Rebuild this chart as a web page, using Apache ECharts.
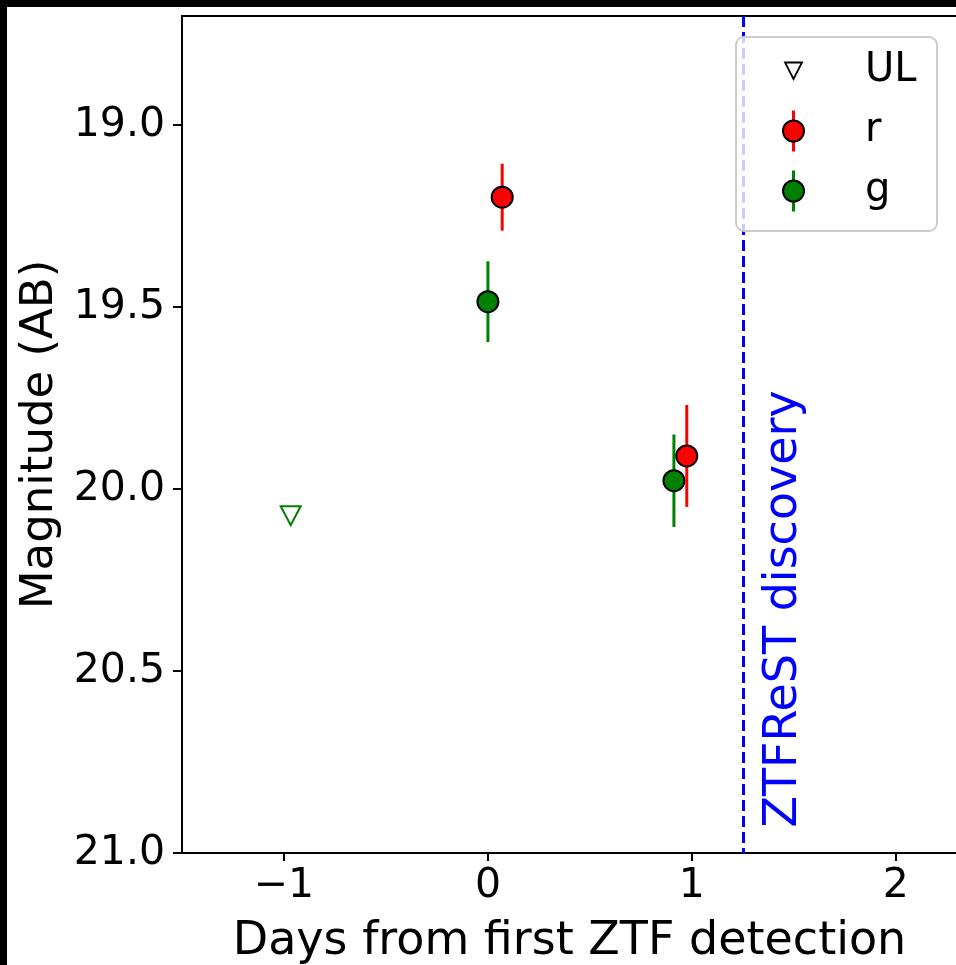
<!DOCTYPE html>
<html>
<head>
<meta charset="utf-8">
<script src="https://cdn.jsdelivr.net/npm/echarts@6/dist/echarts.min.js"></script>
<style>
  html, body { margin: 0; padding: 0; background: #fff; }
  #chart { width: 956px; height: 965px; }
</style>
</head>
<body>
<div id="chart"></div>
<script>
// Early light curve: ZTF r and g photometry, one upper limit
const rDays = [0.07, 0.975];
const rMag = [19.198, 19.909];
const rErr = [0.092, 0.140];

const gDays = [0.0, 0.912];
const gMag = [19.485, 19.977];
const gErr = [0.111, 0.127];

const ulDays = [-0.967];
const ulMag = [20.073];

const discoveryDay = 1.255;
const discoveryText = 'ZTFReST discovery';

const xTicks = [-1, 0, 1, 2];
const yTicks = [19.0, 19.5, 20.0, 20.5, 21.0];

const FONT = 'DejaVu Sans';
const RED = '#ff0000';
const GREEN = '#008000';

function pts(xs, ys) { return xs.map((x, i) => [x, ys[i]]); }
function errPts(xs, ys, es) { return xs.map((x, i) => [x, ys[i], es[i]]); }

function errorBars(color) {
  return function (params, api) {
    const x = api.value(0), y = api.value(1), e = api.value(2);
    const a = api.coord([x, y - e]);
    const b = api.coord([x, y + e]);
    return {
      type: 'line',
      shape: { x1: a[0], y1: a[1], x2: b[0], y2: b[1] },
      style: { stroke: color, lineWidth: 3 }
    };
  };
}

const chart = echarts.init(document.getElementById('chart'), null, { renderer: 'canvas' });

const axisLineStyle = { color: '#000', width: 2 };

chart.setOption({
  backgroundColor: '#fff',
  animation: false,
  grid: {
    left: 182, top: 16, right: -1, bottom: 112,
    containLabel: false,
    outerBoundsMode: 'none',
    show: true, borderColor: '#000', borderWidth: 2, backgroundColor: 'transparent'
  },
  xAxis: {
    type: 'value',
    min: -1.5, max: 2.3,
    name: 'Days from first ZTF detection',
    nameLocation: 'middle',
    nameGap: 66,
    nameTextStyle: { fontFamily: FONT, fontSize: 46, color: '#000' },
    axisLine: { show: true, onZero: false, lineStyle: axisLineStyle },
    axisTick: { show: true, length: 8, lineStyle: axisLineStyle, customValues: xTicks },
    axisLabel: {
      fontFamily: FONT, fontSize: 41, color: '#000', margin: 13,
      customValues: xTicks,
      formatter: v => (v < 0 ? '\u2212' + Math.abs(v) : String(v))
    },
    splitLine: { show: false }
  },
  yAxis: {
    type: 'value',
    inverse: true,
    min: 18.7, max: 21.0,
    name: 'Magnitude (AB)',
    nameLocation: 'middle',
    nameGap: 118,
    nameTextStyle: { fontFamily: FONT, fontSize: 45, color: '#000' },
    axisLine: { show: true, onZero: false, lineStyle: axisLineStyle },
    axisTick: { show: true, length: 9, lineStyle: axisLineStyle, customValues: yTicks },
    axisLabel: {
      fontFamily: FONT, fontSize: 41, color: '#000', margin: 17,
      customValues: yTicks,
      formatter: v => v.toFixed(1)
    },
    splitLine: { show: false }
  },
  series: [
    {
      name: 'UL',
      type: 'scatter',
      data: pts(ulDays, ulMag),
      symbol: 'triangle',
      symbolRotate: 180,
      symbolSize: [20, 19],
      itemStyle: { color: '#fff', borderColor: GREEN, borderWidth: 2, opacity: 1 },
      z: 3,
      markLine: {
        silent: true,
        symbol: 'none',
        label: { show: false },
        lineStyle: { color: '#0000ff', width: 3, type: [11, 5], opacity: 1 },
        data: [{ xAxis: discoveryDay }]
      }
    },
    {
      name: 'g-err',
      type: 'custom',
      data: errPts(gDays, gMag, gErr),
      renderItem: errorBars(GREEN),
      z: 4
    },
    {
      name: 'g',
      type: 'scatter',
      data: pts(gDays, gMag),
      symbol: 'circle',
      symbolSize: 21,
      itemStyle: { color: GREEN, borderColor: '#000', borderWidth: 2, opacity: 1 },
      z: 5
    },
    {
      name: 'r-err',
      type: 'custom',
      data: errPts(rDays, rMag, rErr),
      renderItem: errorBars(RED),
      z: 6
    },
    {
      name: 'r',
      type: 'scatter',
      data: pts(rDays, rMag),
      symbol: 'circle',
      symbolSize: 21,
      itemStyle: { color: RED, borderColor: '#000', borderWidth: 2, opacity: 1 },
      z: 7
    }
  ]
});

// Vertical annotation beside the discovery line, anchored in data space
const labelAnchor = chart.convertToPixel({ gridIndex: 0 }, [discoveryDay + 0.196, 20.93]);

// Legend box with errorbar-style handles
const lx = 793.5;
const legendRows = [
  { label: 'UL', y: 71 },
  { label: 'r', y: 131, color: RED },
  { label: 'g', y: 191, color: GREEN }
];
const legendEls = [
  {
    type: 'rect',
    shape: { x: 736, y: 37, width: 201, height: 194, r: 8 },
    style: { fill: 'rgba(255,255,255,0.8)', stroke: '#cccccc', lineWidth: 2 },
    z: 100
  }
];
legendRows.forEach(row => {
  if (!row.color) {
    legendEls.push({
      type: 'polygon',
      shape: { points: [[lx - 8.5, row.y - 8.5], [lx + 8.5, row.y - 8.5], [lx, row.y + 8]] },
      style: { fill: '#fff', stroke: '#000', lineWidth: 1.8 },
      z: 101
    });
  } else {
    legendEls.push({
      type: 'line',
      shape: { x1: lx, y1: row.y - 20.5, x2: lx, y2: row.y + 20.5 },
      style: { stroke: row.color, lineWidth: 3 },
      z: 101
    });
    legendEls.push({
      type: 'circle',
      shape: { cx: lx, cy: row.y, r: 10.5 },
      style: { fill: row.color, stroke: '#000', lineWidth: 2 },
      z: 102
    });
  }
  legendEls.push({
    type: 'text',
    x: 865, y: row.y,
    style: {
      text: row.label, fill: '#000', font: '40px "' + FONT + '"',
      textAlign: 'left', textVerticalAlign: 'middle'
    },
    z: 102
  });
});

chart.setOption({
  graphic: [
    // black frame strips along the top and left edges
    { type: 'rect', shape: { x: 0, y: 0, width: 956, height: 7 }, style: { fill: '#000' }, z: 200 },
    { type: 'rect', shape: { x: 0, y: 0, width: 7, height: 965 }, style: { fill: '#000' }, z: 200 },
    {
      type: 'text',
      x: labelAnchor[0], y: labelAnchor[1],
      rotation: Math.PI / 2,
      style: {
        text: discoveryText, fill: '#0000ff', font: '46px "' + FONT + '"',
        textAlign: 'left', textVerticalAlign: 'middle'
      },
      z: 50
    }
  ].concat(legendEls)
});
</script>
</body>
</html>
